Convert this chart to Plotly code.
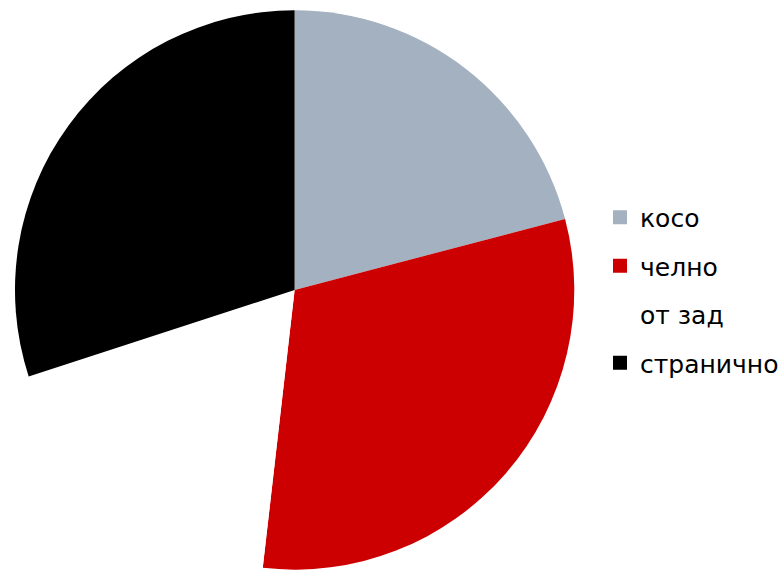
import plotly.graph_objects as go

labels = ["косо", "челно", "от зад", "странично"]
values = [23, 34, 20, 33]
colors = ["#A3B1C0", "#CC0000", "#FFFFFF", "#000000"]

W, H = 784, 570

fig = go.Figure()
fig.add_trace(go.Pie(
    labels=labels, values=values, sort=False, direction="clockwise", rotation=0,
    marker=dict(colors=colors, line=dict(width=0)),
    textinfo="none", hoverinfo="label+percent", showlegend=False,
    domain=dict(x=[15 / W, 575 / W], y=[0, 1 - 10 / H]),
))
for i, (lab, col) in enumerate(zip(labels, colors)):
    fig.add_trace(go.Scatter(
        x=[None], y=[None], mode="markers", name=lab, legendgroup=f"g{i}",
        marker=dict(symbol="square", size=14, color=col, line=dict(width=0)),
        showlegend=True,
    ))

fig.update_layout(
    width=W, height=H,
    margin=dict(l=0, r=0, t=0, b=0),
    paper_bgcolor="white", plot_bgcolor="white",
    font=dict(family="DejaVu Sans", size=25, color="#000000"),
    xaxis=dict(visible=False), yaxis=dict(visible=False),
    legend=dict(x=(641 - 40) / W, xanchor="left", y=1 - 290 / H, yanchor="middle",
                tracegroupgap=13, itemwidth=30, bgcolor="rgba(0,0,0,0)",
                borderwidth=0, font=dict(size=25)),
)
fig.write_html("out.html", config={"displayModeBar": False},
               post_script="document.body.style.margin='0';document.body.style.overflow='hidden';")
